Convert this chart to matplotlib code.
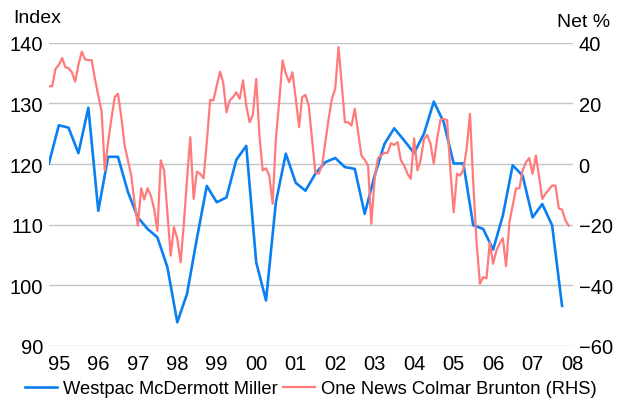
import pandas as pd
import matplotlib
matplotlib.use("Agg")
import matplotlib.pyplot as plt
import matplotlib.dates as mdates

plt.rcParams["font.family"] = ["Liberation Sans", "DejaVu Sans"]

# Westpac McDermott Miller consumer confidence index (quarterly, LHS)
westpac = [120.1, 126.4, 126.0, 121.8, 129.3, 112.3, 121.2, 121.2, 115.4, 111.2, 109.3, 107.9, 103.0, 93.9,
           98.6, 107.7, 116.4, 113.7, 114.5, 120.7, 123.0, 103.8, 97.5, 113.7, 121.7, 116.9, 115.6,
           118.4, 120.3, 121.0, 119.5, 119.2, 111.8, 118.1, 123.3, 125.9, 123.9, 121.8, 125.0, 130.3,
           126.9, 120.1, 120.1, 109.9, 109.3, 105.9, 111.5, 119.8, 118.1, 111.2, 113.4, 109.9, 96.6]

# One News Colmar Brunton net % (monthly, RHS)
colmar = [25.7, 25.7, 31.4, 32.7, 35.0, 32.0, 31.6, 30.3, 27.2, 32.7, 37.1, 34.5, 34.3, 34.3, 28.1, 22.6,
          17.3, -2.1, 7.2, 14.9, 22.1, 23.2, 15.5, 6.1, 1.2, -3.8, -12.6, -20.3, -8.0, -11.7, -8.0, -10.4,
          -14.8, -22.0, 1.2, -2.1, -15.9, -30.2, -20.8, -24.7, -32.4,
          -20.3, -5.0, 8.9, -11.5, -2.5, -3.2, -4.7, 7.2, 21.2, 21.0, 25.9, 30.5, 27.0, 17.1, 21.0, 22.1,
          23.7, 21.5, 27.6, 19.3, 13.8, 16.2, 28.1, 8.9, -2.1, -1.4, -3.8, -13.1, 8.3, 20.6, 34.2, 29.8,
          27.0, 30.3, 21.5, 12.2, 22.1, 22.8, 19.3, 8.3, -2.7,
          -3.2, -0.5, 7.2, 14.9, 21.5, 24.8, 38.6, 27.0, 13.8, 13.8, 12.7, 18.2, 10.5, 2.8, 1.4, -0.5,
          -19.7, -4.9, 2.0, 2.8, 3.7, 3.7, 6.9, 6.3, 7.2, 1.2, -0.5, -3.2, -4.9, 8.5, -2.1, 1.2, 8.3,
          9.6, 6.7, 0.1, 8.3, 14.7, 14.9,
          14.5, -1.6, -15.9, -3.2, -3.8, -1.8, 5.0, 16.6, -6.0, -25.8, -39.5, -37.3, -37.7, -25.8, -32.9,
          -28.5, -26.3, -24.5, -33.7, -19.2, -13.7, -8.0, -8.0, -2.1, 0.6, 2.0, -3.2, 2.8, -3.8, -11.5,
          -9.8, -8.4, -7.1, -7.1, -14.6, -15.0, -18.6, -20.3]

westpac_dates = pd.date_range("1994-10-01", periods=len(westpac), freq="QS")
colmar_dates = pd.date_range("1994-10-01", periods=len(colmar), freq="MS")

blue = "#0a7ff2"
pink = "#ff7b7b"
grid = "#c4c4c4"

fig = plt.figure(figsize=(6.19, 4.02), dpi=100)
ax = fig.add_axes([0.079, 0.137, 0.847, 0.754])
ax2 = ax.twinx()

l1, = ax.plot(westpac_dates, westpac, color=blue, lw=1.9, label="Westpac McDermott Miller")
l2, = ax2.plot(colmar_dates, colmar, color=pink, lw=1.6, label="One News Colmar Brunton (RHS)")

ax.set_ylim(90, 140)
ax2.set_ylim(-60, 40)
ax.set_yticks(range(90, 141, 10))
ax2.set_yticks(range(-60, 41, 20))
ax.set_xlim(pd.Timestamp("1994-10-01"), pd.Timestamp("2008-01-12"))

ax.xaxis.set_major_locator(mdates.YearLocator())
ax.xaxis.set_major_formatter(mdates.DateFormatter("%y"))

ax.grid(axis="y", color=grid, lw=1)
ax.set_axisbelow(True)
for a in (ax, ax2):
    for s in a.spines.values():
        s.set_visible(False)
    a.tick_params(length=0, labelsize=14.5, colors="black")
ax.tick_params(axis="y", pad=4)
ax2.tick_params(axis="y", pad=4)
ax.tick_params(axis="x", pad=6)

fig.text(0.022, 0.955, "Index", fontsize=14, va="center", ha="left")
fig.text(0.985, 0.945, "Net %", fontsize=14, va="center", ha="right")

fig.legend(handles=[l1, l2], loc="center", bbox_to_anchor=(0.502, 0.03), ncol=2, frameon=False,
           fontsize=13.2, handlelength=1.75, handletextpad=0.3, columnspacing=0.3)

fig.savefig("out.png", dpi=100)
